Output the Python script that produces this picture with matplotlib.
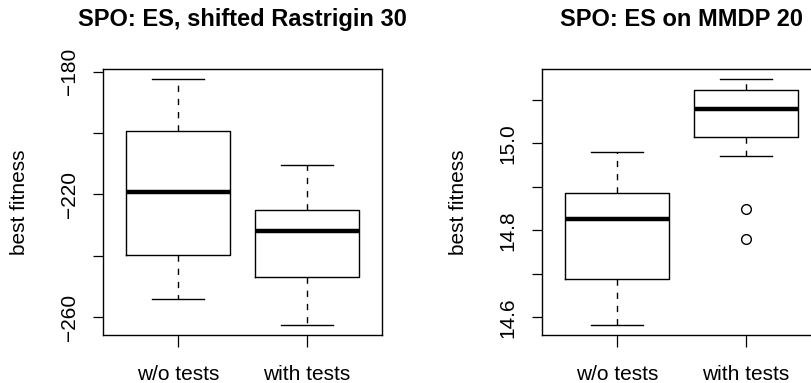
import matplotlib
matplotlib.use("Agg")
import matplotlib.pyplot as plt

plt.rcParams['font.family'] = ['Liberation Sans', 'DejaVu Sans']

categories = ["w/o tests", "with tests"]

# Panel 1: SPO: ES, shifted Rastrigin 30
ras_whislo = [-254.1, -262.6]
ras_q1 = [-239.8, -247.0]
ras_med = [-219.3, -231.8]
ras_q3 = [-199.3, -225.2]
ras_whishi = [-182.3, -210.5]
ras_fliers = [[], []]

# Panel 2: SPO: ES on MMDP 20
mm_whislo = [14.582, 14.971]
mm_q1 = [14.687, 15.015]
mm_med = [14.825, 15.079]
mm_q3 = [14.886, 15.123]
mm_whishi = [14.980, 15.148]
mm_fliers = [[], [14.849, 14.780]]

titles = ["SPO: ES, shifted Rastrigin 30", "SPO: ES on MMDP 20"]
yticks = [[-260, -240, -220, -200, -180], [14.6, 14.7, 14.8, 14.9, 15.0, 15.1]]
ylabels_shown = [["\u2212260", "", "\u2212220", "", "\u2212180"], ["14.6", "", "14.8", "", "15.0", ""]]


def stats_list(lo, q1, med, q3, hi, fl):
    return [dict(label=c, whislo=lo[i], q1=q1[i], med=med[i], q3=q3[i], whishi=hi[i], fliers=fl[i])
            for i, c in enumerate(categories)]


fig = plt.figure(figsize=(8.11, 3.83), dpi=100)
ax1 = fig.add_axes([103 / 811, 48 / 383, 279 / 811, 266 / 383])
ax2 = fig.add_axes([542 / 811, 48 / 383, 279 / 811, 266 / 383])

panels = [
    (ax1, stats_list(ras_whislo, ras_q1, ras_med, ras_q3, ras_whishi, ras_fliers)),
    (ax2, stats_list(mm_whislo, mm_q1, mm_med, mm_q3, mm_whishi, mm_fliers)),
]

for k, (ax, st) in enumerate(panels):
    ax.bxp(st, positions=[1, 2], widths=0.8, showfliers=True,
           boxprops=dict(color="black", linewidth=1.0),
           medianprops=dict(color="black", linewidth=3.2, solid_capstyle="butt"),
           whiskerprops=dict(color="black", linewidth=1.0, linestyle=(0, (4.5, 5))),
           capprops=dict(color="black", linewidth=1.0),
           capwidths=0.4,
           flierprops=dict(marker="o", markerfacecolor="none", markeredgecolor="black",
                           markersize=7, markeredgewidth=1.0, linestyle="none"))
    allv = [s["whislo"] for s in st] + [s["whishi"] for s in st] + [f for s in st for f in s["fliers"]]
    lo, hi = min(allv), max(allv)
    pad = 0.04 * (hi - lo)
    ax.set_ylim(lo - pad, hi + pad)
    ax.set_xlim(0.42, 2.58)
    ax.set_yticks(yticks[k])
    ax.set_yticklabels(ylabels_shown[k], rotation=90, va="center", fontsize=15)
    ax.set_xticks([1, 2])
    ax.set_xticklabels(categories, fontsize=15)
    ax.tick_params(axis="y", length=7.5, width=0.9, pad=10)
    ax.tick_params(axis="x", length=8.6, width=0.9, pad=13)
    for sp in ax.spines.values():
        sp.set_linewidth(1.0)
    ax.set_ylabel("best fitness", fontsize=15, labelpad=22)
    ax.set_title(titles[k], fontsize=17, fontweight="bold", pad=31)

fig.savefig("out.png", dpi=100)
